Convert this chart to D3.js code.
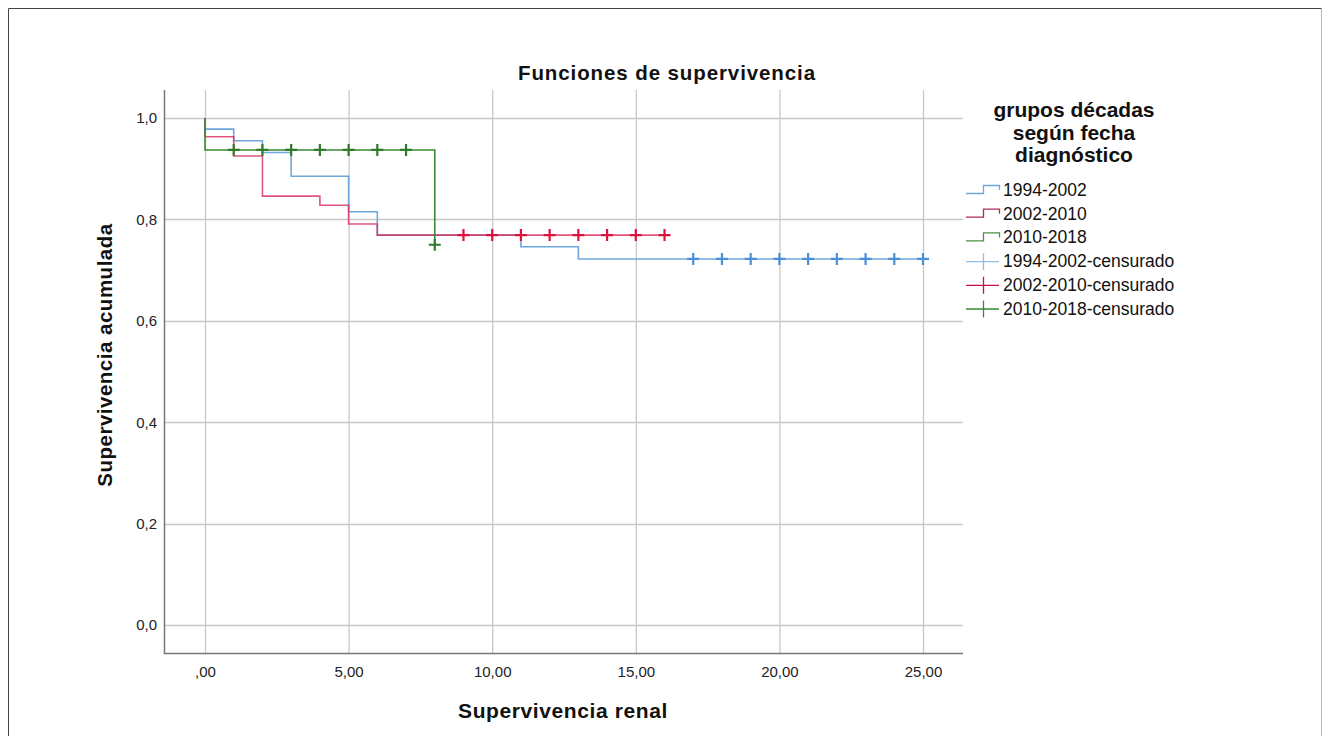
<!DOCTYPE html>
<html>
<head>
<meta charset="utf-8">
<script src="https://cdn.jsdelivr.net/npm/d3@7"></script>
<style>
	html, body { margin: 0; padding: 0; background: #fff; }
	body { width: 1323px; height: 736px; overflow: hidden; }
	text { font-family: Arial, 'Liberation Sans', sans-serif; }
</style>
</head>
<body>
<div id="chart"></div>
<script>
//data
const groups = ['1994-2002', '2002-2010', '2010-2018'];

// step times (years) and survival after each step
const blueTimes = [0, 1, 2, 3, 5, 6, 11, 13];
const blueSurv = [0.978, 0.955, 0.932, 0.885, 0.815, 0.769, 0.746, 0.722];
const blueEnd = 25;
const blueCensor = [17, 18, 19, 20, 21, 22, 23, 24, 25];

const redTimes = [0, 1, 2, 4, 5, 6];
const redSurv = [0.963, 0.925, 0.846, 0.828, 0.791, 0.769];
const redEnd = 16;
const redCensor = [9, 10, 11, 12, 13, 14, 15, 16];

const greenTimes = [0, 8];
const greenSurv = [0.937, 0.75];
const greenEnd = 8;
const greenCensor = [1, 2, 3, 4, 5, 6, 7, 8];

const xTicks = [0, 5, 10, 15, 20, 25];
const yTicks = [0, 0.2, 0.4, 0.6, 0.8, 1.0];

render();

function render() {
	let props = {
		width: 1323,
		height: 736,
		left: 164,
		right: 963,
		top: 90,
		bottom: 653,
		xDomain: [0, 25],
		xRange: [205, 923],
		yDomain: [0, 1],
		yRange: [625, 118],
		lineColors: ['#6fa8dc', '#dc2a5c', '#3a8a33'],
		censorColors: ['#4a90d9', '#e0103e', '#2f7a2a'],
		legendStepColors: ['#6fa8dc', '#b02a5e', '#4f8f45'],
		legendCensorColors: ['#8fbde6', '#c8104a', '#3a8a33'],
	};

	createVisualization(d3.select('#chart'), props);
}

function createVisualization(container, props) {
	let { width, height, left, right, top, bottom } = props;

	const x = d3.scaleLinear().domain(props.xDomain).range(props.xRange);
	const y = d3.scaleLinear().domain(props.yDomain).range(props.yRange);

	const svg = container
		.append('svg')
		.attr('width', width)
		.attr('height', height);

	// frame
	svg.append('path')
		.attr('d', `M8.5,${height} V8.5 H1321.5`)
		.style('fill', 'none')
		.style('stroke', '#444')
		.style('stroke-width', 1);
	svg.append('line')
		.attr('x1', 1321.5).attr('x2', 1321.5)
		.attr('y1', 9).attr('y2', height)
		.style('stroke', '#bbb');

	//grid
	svg.append('g')
		.selectAll('line')
		.data(xTicks)
		.join('line')
		.attr('x1', (d) => x(d) + 0.5)
		.attr('x2', (d) => x(d) + 0.5)
		.attr('y1', top)
		.attr('y2', bottom)
		.style('stroke', '#c8c8c8')
		.style('stroke-width', 1.3);

	svg.append('g')
		.selectAll('line')
		.data(yTicks)
		.join('line')
		.attr('x1', left)
		.attr('x2', right)
		.attr('y1', (d) => Math.round(y(d)) + 0.5)
		.attr('y2', (d) => Math.round(y(d)) + 0.5)
		.style('stroke', '#c8c8c8')
		.style('stroke-width', 1.3);

	//axes
	const xAxis = d3
		.axisBottom(x)
		.tickValues(xTicks)
		.tickSize(0)
		.tickPadding(12)
		.tickFormat((d) => (d === 0 ? ',00' : d3.format('.2f')(d).replace('.', ',')));
	const gx = svg.append('g')
		.attr('transform', translation(0, bottom + 0.5))
		.call(xAxis);
	gx.select('.domain').remove();
	gx.selectAll('text')
		.attr('dy', null)
		.attr('y', 23)
		.style('font-size', '15px')
		.style('fill', '#222')
		.style('font-family', 'Arial, "Liberation Sans", sans-serif');

	const yAxis = d3
		.axisLeft(y)
		.tickValues(yTicks)
		.tickSize(0)
		.tickPadding(7)
		.tickFormat((d) => d3.format('.1f')(d).replace('.', ','));
	const gy = svg.append('g')
		.attr('transform', translation(left, 0))
		.call(yAxis);
	gy.select('.domain').remove();
	gy.selectAll('text')
		.style('font-size', '15px')
		.style('fill', '#222')
		.style('font-family', 'Arial, "Liberation Sans", sans-serif');

	svg.append('path')
		.attr('d', `M${left + 0.5},${top} V${bottom + 0.5} H${right}`)
		.style('fill', 'none')
		.style('stroke', '#777')
		.style('stroke-width', 1.5);

	//curves
	const series = [
		{ times: blueTimes, surv: blueSurv, end: blueEnd, censor: blueCensor },
		{ times: redTimes, surv: redSurv, end: redEnd, censor: redCensor },
		{ times: greenTimes, surv: greenSurv, end: greenEnd, censor: greenCensor },
	];

	const line = d3
		.line()
		.x((d) => x(d[0]))
		.y((d) => y(d[1]))
		.curve(d3.curveStepAfter);

	function stepPoints(s) {
		let pts = [[0, 1]];
		s.times.forEach((t, i) => pts.push([t, s.surv[i]]));
		pts.push([s.end, s.surv[s.surv.length - 1]]);
		return pts;
	}

	function survAt(s, t) {
		let v = 1;
		s.times.forEach((tt, i) => {
			if (tt <= t) v = s.surv[i];
		});
		return v;
	}

	const curveG = svg.append('g');
	series.forEach((s, i) => {
		curveG.append('path')
			.attr('d', line(stepPoints(s)))
			.style('fill', 'none')
			.style('stroke', props.lineColors[i])
			.style('stroke-width', 1.6)
			.style('opacity', i === 1 ? 0.8 : 1);
	});

	series.forEach((s, i) => {
		curveG.append('g')
			.selectAll('path')
			.data(s.censor)
			.join('path')
			.attr('d', (d) => {
				let cx = x(d);
				let cy = y(survAt(s, d));
				return `M${cx - 6},${cy} H${cx + 6} M${cx},${cy - 6} V${cy + 6}`;
			})
			.style('stroke', props.censorColors[i])
			.style('stroke-width', 2.2);
	});

	//titles
	svg.append('text')
		.attr('x', 667)
		.attr('y', 80)
		.attr('text-anchor', 'middle')
		.style('font-size', '20.5px')
		.style('letter-spacing', '0.9px')
		.style('font-weight', 'bold')
		.style('fill', '#111')
		.text('Funciones de supervivencia');

	svg.append('text')
		.attr('x', 563)
		.attr('y', 718)
		.attr('text-anchor', 'middle')
		.style('font-size', '21px')
		.style('letter-spacing', '0.6px')
		.style('font-weight', 'bold')
		.style('fill', '#111')
		.text('Supervivencia renal');

	svg.append('text')
		.attr('transform', translation(112, 355) + ' rotate(-90)')
		.attr('text-anchor', 'middle')
		.style('font-size', '20.5px')
		.style('letter-spacing', '0.5px')
		.style('font-weight', 'bold')
		.style('fill', '#111')
		.text('Supervivencia acumulada');

	//legend
	const legend = svg.append('g');
	['grupos décadas', 'según fecha', 'diagnóstico'].forEach((t, i) => {
		legend.append('text')
			.attr('x', 1074)
			.attr('y', 117 + i * 22.5)
			.attr('text-anchor', 'middle')
			.style('font-size', '21px')
			.style('font-weight', 'bold')
			.style('fill', '#111')
			.text(t);
	});

	const items = groups
		.map((g, i) => ({ label: g, kind: 'step', i }))
		.concat(groups.map((g, i) => ({ label: g + '-censurado', kind: 'censor', i })));

	const item = legend
		.selectAll('.item')
		.data(items)
		.join('g')
		.attr('class', 'item')
		.attr('transform', (d, k) => translation(0, 190 + k * 23.7));

	item.append('path')
		.attr('d', (d) =>
			d.kind === 'step'
				? 'M966,3.5 H983.5 V-4.5 H999.5 V0'
				: 'M966,0.5 H999 M983.5,-8 V9'
		)
		.style('fill', 'none')
		.style('stroke', (d) =>
			d.kind === 'step' ? props.legendStepColors[d.i] : props.legendCensorColors[d.i]
		)
		.style('stroke-width', 1.3);

	item.append('text')
		.attr('x', 1003)
		.attr('y', 6)
		.style('font-size', '17.5px')
		.style('fill', '#111')
		.text((d) => d.label);
}

//utils
function translation(x, y) {
	return `translate(${x}, ${y})`;
}
</script>
</body>
</html>
